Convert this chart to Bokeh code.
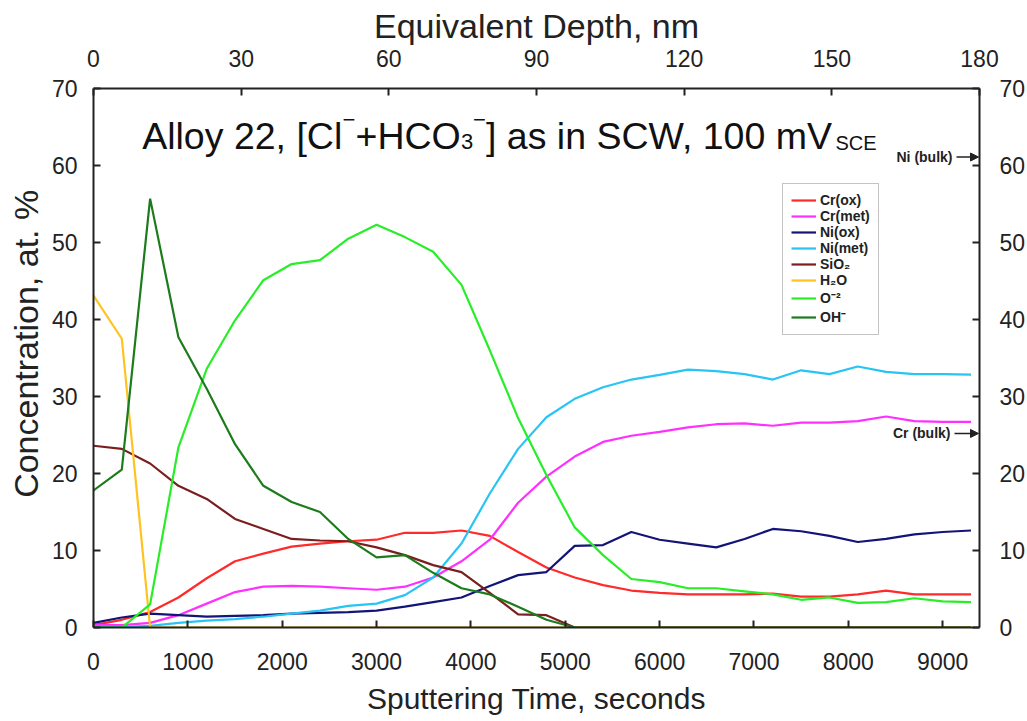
from bokeh.plotting import figure
from bokeh.models import Range1d, LinearAxis, FixedTicker, Legend, LegendItem, Label, Arrow, NormalHead
from bokeh.embed import file_html
from bokeh.resources import INLINE

# ---------------- data ----------------
time_s = [0, 300, 600, 900, 1200, 1500, 1800, 2100, 2400, 2700, 3000, 3300, 3600, 3900, 4200, 4500,
          4800, 5100, 5400, 5700, 6000, 6300, 6600, 6900, 7200, 7500, 7800, 8100, 8400, 8700, 9000, 9300]

cr_ox = [0.3, 1.0, 2.0, 3.9, 6.4, 8.6, 9.6, 10.5, 10.9, 11.2, 11.4, 12.3, 12.3, 12.6, 11.9, 9.8,
         7.8, 6.5, 5.5, 4.8, 4.5, 4.3, 4.3, 4.3, 4.4, 4.0, 4.0, 4.3, 4.8, 4.3, 4.3, 4.3]
cr_met = [0.3, 0.3, 0.6, 1.6, 3.1, 4.6, 5.3, 5.4, 5.3, 5.1, 4.9, 5.3, 6.5, 8.6, 11.4, 16.2,
          19.6, 22.2, 24.1, 24.9, 25.4, 26.0, 26.4, 26.5, 26.2, 26.6, 26.6, 26.8, 27.4, 26.8, 26.7, 26.7]
ni_ox = [0.6, 1.3, 1.8, 1.6, 1.4, 1.5, 1.6, 1.8, 1.9, 2.0, 2.2, 2.7, 3.3, 3.9, 5.4, 6.8,
         7.2, 10.6, 10.7, 12.4, 11.4, 10.9, 10.4, 11.5, 12.8, 12.5, 11.9, 11.1, 11.5, 12.1, 12.4, 12.6]
ni_met = [0.1, 0.1, 0.2, 0.6, 0.9, 1.1, 1.4, 1.8, 2.2, 2.8, 3.1, 4.2, 6.5, 10.9, 17.4, 23.2,
          27.3, 29.7, 31.2, 32.2, 32.8, 33.5, 33.3, 32.9, 32.2, 33.4, 32.9, 33.9, 33.2, 32.9, 32.9, 32.85]
sio2 = [23.6, 23.2, 21.3, 18.4, 16.7, 14.1, 12.8, 11.5, 11.3, 11.2, 10.4, 9.4, 8.1, 7.2, 4.5, 1.7,
        1.6, 0, 0, 0, 0, 0, 0, 0, 0, 0, 0, 0, 0, 0, 0, 0]
h2o = [43.1, 37.5, 0, 0, 0, 0, 0, 0, 0, 0, 0, 0, 0, 0, 0, 0,
       0, 0, 0, 0, 0, 0, 0, 0, 0, 0, 0, 0, 0, 0, 0, 0]
o2 = [0, 0, 3.0, 23.4, 33.6, 39.9, 45.1, 47.2, 47.7, 50.5, 52.3, 50.7, 48.8, 44.5, 36.0, 27.2,
      19.8, 13.0, 9.4, 6.3, 5.9, 5.1, 5.1, 4.7, 4.3, 3.6, 3.9, 3.2, 3.3, 3.8, 3.4, 3.3]
oh = [17.8, 20.5, 55.7, 37.7, 31.0, 23.8, 18.4, 16.3, 15.0, 11.5, 9.1, 9.4, 7.1, 5.1, 4.3, 2.7,
      1.0, 0, 0, 0, 0, 0, 0, 0, 0, 0, 0, 0, 0, 0, 0, 0]

series_names = ["Cr(ox)", "Cr(met)", "Ni(ox)", "Ni(met)", "SiO\u2082", "H\u2082O", "O\u207b\u00b2", "OH\u207b"]
series_values = [cr_ox, cr_met, ni_ox, ni_met, sio2, h2o, o2, oh]
series_colors = ["#ff2a2a", "#ff30ff", "#141478", "#28c4f4", "#7a1e1e", "#ffc21e", "#28ee28", "#1c7c1c"]

x_ticks = [0, 1000, 2000, 3000, 4000, 5000, 6000, 7000, 8000, 9000]
depth_ticks = [0, 30, 60, 90, 120, 150, 180]
y_ticks = [0, 10, 20, 30, 40, 50, 60, 70]
ni_bulk = 61.1
cr_bulk = 25.2

# ---------------- layout ----------------
X_MAX = 9390
DEPTH_MAX = 180
LEFT, FW, TOP, FH = 93, 886, 88, 539
FONT = "Liberation Sans"


def X(px):
    return (px - LEFT) / FW * X_MAX


def Y(py):
    return (TOP + FH - py) / FH * 70


p = figure(frame_width=FW, frame_height=FH,
           x_range=Range1d(0, X_MAX), y_range=Range1d(0, 70),
           output_backend="svg", toolbar_location=None,
           min_border_left=LEFT, min_border_right=1027 - LEFT - FW,
           min_border_top=TOP, min_border_bottom=721 - TOP - FH)
p.extra_x_ranges = {"depth": Range1d(0, DEPTH_MAX)}
p.grid.visible = False
p.outline_line_color = None
p.background_fill_color = "white"
p.border_fill_color = "white"

top_axis = LinearAxis(x_range_name="depth")
right_axis = LinearAxis()
p.add_layout(top_axis, "above")
p.add_layout(right_axis, "right")
bottom_axis = p.below[0]
left_axis = p.left[0]

bottom_axis.ticker = FixedTicker(ticks=x_ticks)
bottom_axis.axis_label = "Sputtering Time, seconds"
top_axis.ticker = FixedTicker(ticks=depth_ticks)
top_axis.axis_label = "Equivalent Depth, nm"
left_axis.ticker = FixedTicker(ticks=y_ticks)
left_axis.axis_label = "\u00a0\u00a0\u00a0Concentration, at. %"
right_axis.ticker = FixedTicker(ticks=y_ticks)

for ax in [bottom_axis, top_axis, left_axis, right_axis]:
    ax.axis_line_width = 2
    ax.axis_line_color = "#222222"
    ax.major_tick_line_width = 2
    ax.major_tick_line_color = "#222222"
    ax.major_tick_in = 7
    ax.major_tick_out = 0
    ax.minor_tick_line_color = None
    ax.major_label_text_font = FONT
    ax.major_label_text_font_size = "23px"
    ax.major_label_text_color = "#222222"
    ax.axis_label_text_font = FONT
    ax.axis_label_text_font_style = "normal"
    ax.axis_label_text_color = "#222222"

bottom_axis.major_label_standoff = 25
bottom_axis.axis_label_text_font_size = "30px"
bottom_axis.axis_label_standoff = 9
top_axis.major_label_standoff = 22
top_axis.axis_label_text_font_size = "34px"
top_axis.axis_label_standoff = 2
left_axis.major_label_standoff = 16
left_axis.axis_label_text_font_size = "34px"
left_axis.axis_label_standoff = 4
right_axis.major_label_standoff = 20

items = []
for name, vals, col in zip(series_names, series_values, series_colors):
    r = p.line(time_s, vals, line_color=col, line_width=2.2)
    items.append(LegendItem(label=name, renderers=[r]))

legend = Legend(items=items, location=(689, 292), orientation="vertical",
                border_line_color="#8a8a8a", border_line_width=1.5,
                background_fill_color="white", background_fill_alpha=1.0,
                label_text_font=FONT, label_text_font_style="bold",
                label_text_font_size="14px", label_text_color="#222222",
                glyph_width=25, glyph_height=14, label_height=14,
                spacing=0, padding=8, margin=0, label_standoff=4)
p.add_layout(legend, "center")

# ---------------- title inside the plot ----------------
F, S = 37.5, 22
base = 135
def lab(text, px, py, size):
    p.add_layout(Label(x=X(px), y=Y(py), text=text, text_font=FONT,
                       text_font_size=f"{size}px", text_color="#111111",
                       text_baseline="alphabetic", text_align="left"))

lab("Alloy 22, [Cl", 141.7, base, F)
lab("\u2212", 342, base - 16, S)
lab("+HCO", 355, base, F)
lab("3", 460.5, base + 6, S)
lab("\u2212", 472.5, base - 16, S)
lab("] as in SCW, 100 mV", 485.5, base, F)
lab("SCE", 835, base + 7, 20)

# ---------------- bulk annotations ----------------
for txt, val, px in [("Ni (bulk)", ni_bulk, 952), ("Cr (bulk)", cr_bulk, 950)]:
    p.add_layout(Label(x=X(px), y=val, text=txt, text_font=FONT, text_font_style="bold",
                       text_font_size="14px", text_color="#222222",
                       text_baseline="middle", text_align="right"))
    p.add_layout(Arrow(end=NormalHead(size=8, fill_color="#222222", line_color="#222222"),
                       x_start=X(px + 4), y_start=val, x_end=X(LEFT + FW - 1), y_end=val,
                       line_width=1.5, line_color="#222222"))

open("out.html", "w").write(file_html(p, INLINE))
